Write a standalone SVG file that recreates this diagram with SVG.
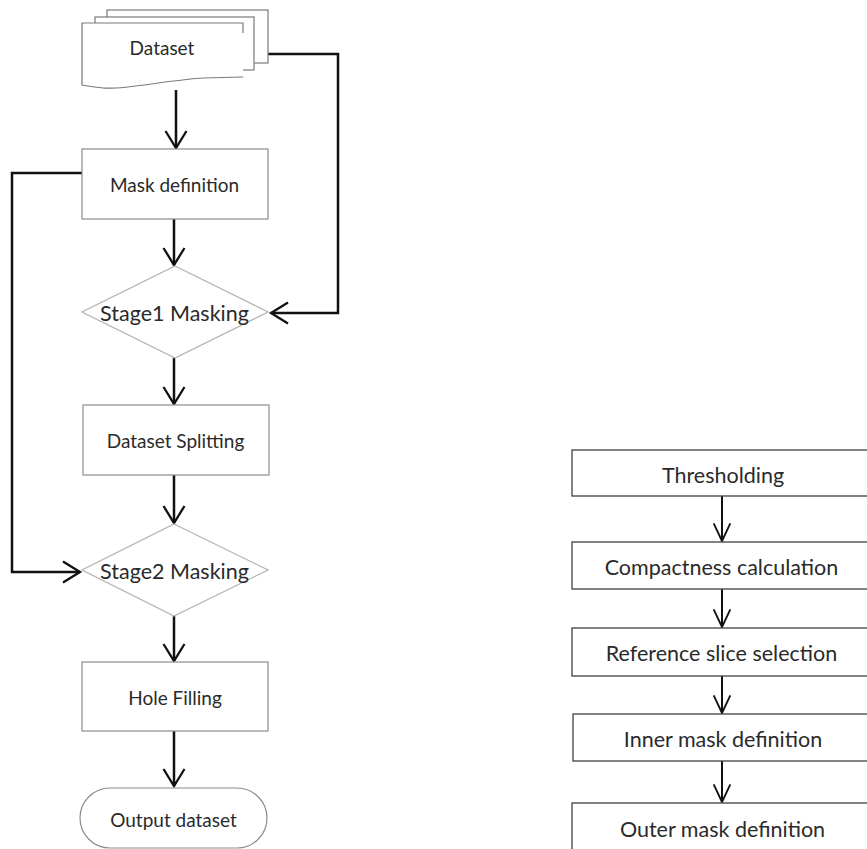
<svg xmlns="http://www.w3.org/2000/svg" width="867" height="849" viewBox="0 0 867 849">
<style>
  .box { fill: #fff; stroke: #8c8c8c; stroke-width: 1.2; }
  .rbox { fill: #fff; stroke: #404040; stroke-width: 1.3; }
  .dia { fill: #fff; stroke: #b4b4b4; stroke-width: 1.3; }
  .page { fill: #fff; stroke: #7a7a7a; stroke-width: 1.2; }
  .t { font-family: Lato, Carlito, "Liberation Sans", sans-serif; fill: #2a2a2a; text-anchor: middle; dominant-baseline: central; }
  .s20 { font-size: 19px; }
  .s23 { font-size: 21.5px; }
  .conn { fill: none; stroke: #111; stroke-width: 2.5; }
  .rconn { fill: none; stroke: #111; stroke-width: 2; }
</style>
<defs>
  <marker id="arr" markerUnits="userSpaceOnUse" markerWidth="24" markerHeight="24" viewBox="-20 -12 24 24" refX="0" refY="0" orient="auto">
    <path d="M -17 -10.5 L 0 0 L -17 10.5" fill="none" stroke="#111" stroke-width="2.3"/>
  </marker>
  <marker id="arrR" markerUnits="userSpaceOnUse" markerWidth="24" markerHeight="24" viewBox="-22 -12 26 24" refX="0" refY="0" orient="auto">
    <path d="M -19 -9 L 0 0 L -19 9" fill="none" stroke="#111" stroke-width="2"/>
  </marker>
</defs>

<g id="connectors">
  <path class="conn" d="M176 90 V148" marker-end="url(#arr)"/>
  <path class="conn" d="M174 219 V265" marker-end="url(#arr)"/>
  <path class="conn" d="M268 54 H338 V313 H271" marker-end="url(#arr)"/>
  <path class="conn" d="M82 173 H12 V572 H80" marker-end="url(#arr)"/>
  <path class="conn" d="M174 358 V404" marker-end="url(#arr)"/>
  <path class="conn" d="M174 475 V523" marker-end="url(#arr)"/>
  <path class="conn" d="M174 616 V661" marker-end="url(#arr)"/>
  <path class="conn" d="M174 731 V786" marker-end="url(#arr)"/>
  <path class="rconn" d="M722 496 V541" marker-end="url(#arrR)"/>
  <path class="rconn" d="M722 589 V627" marker-end="url(#arrR)"/>
  <path class="rconn" d="M722 676 V713" marker-end="url(#arrR)"/>
  <path class="rconn" d="M722 761 V802" marker-end="url(#arrR)"/>
</g>

<g id="dataset">
  <rect class="page" x="107" y="10" width="161" height="53"/>
  <rect class="page" x="95" y="17" width="159" height="53"/>
  <path d="M82 23 H243 V77 L203 78 C160 81 125 90 103 88 C95 87 86 86 82 85 Z" fill="#fff" stroke="none"/>
  <path d="M82 33 V23 H243 V33 M82 23 V85 C86 86 95 87 103 88 C125 90 160 81 203 78 L243 77" fill="none" stroke="#7a7a7a" stroke-width="1.2"/>
  <text class="t s20" x="162" y="47">Dataset</text>
</g>

<g id="mask-definition">
  <rect class="box" x="82" y="149" width="186" height="70"/>
  <text class="t s20" x="174.5" y="184">Mask definition</text>
</g>

<g id="stage1">
  <polygon class="dia" points="175,266 268,312 175,358 82,312"/>
  <text class="t s23" x="174.5" y="313">Stage1 Masking</text>
</g>

<g id="dataset-splitting">
  <rect class="box" x="83" y="405" width="186" height="70"/>
  <text class="t s20" x="175.5" y="440">Dataset Splitting</text>
</g>

<g id="stage2">
  <polygon class="dia" points="174,524 268,570 174,616 82,570"/>
  <text class="t s23" x="174.5" y="571">Stage2 Masking</text>
</g>

<g id="hole-filling">
  <rect class="box" x="82" y="662" width="186" height="69"/>
  <text class="t s20" x="175" y="697">Hole Filling</text>
</g>

<g id="output-dataset">
  <rect class="box" x="80" y="788" width="187" height="60" rx="30" ry="30"/>
  <text class="t s20" x="173.5" y="819">Output dataset</text>
</g>

<g id="thresholding">
  <rect class="rbox" x="572" y="450" width="304" height="46"/>
  <text class="t s23" x="723" y="475">Thresholding</text>
</g>

<g id="compactness">
  <rect class="rbox" x="572" y="542" width="304" height="47"/>
  <text class="t s23" x="721.5" y="567">Compactness calculation</text>
</g>

<g id="reference-slice">
  <rect class="rbox" x="572" y="628" width="304" height="48"/>
  <text class="t s23" x="721.5" y="653">Reference slice selection</text>
</g>

<g id="inner-mask">
  <rect class="rbox" x="573" y="714" width="304" height="47"/>
  <text class="t s23" x="723" y="739">Inner mask definition</text>
</g>

<g id="outer-mask">
  <rect class="rbox" x="572" y="803" width="304" height="50"/>
  <text class="t s23" x="722.5" y="829">Outer mask definition</text>
</g>
</svg>
